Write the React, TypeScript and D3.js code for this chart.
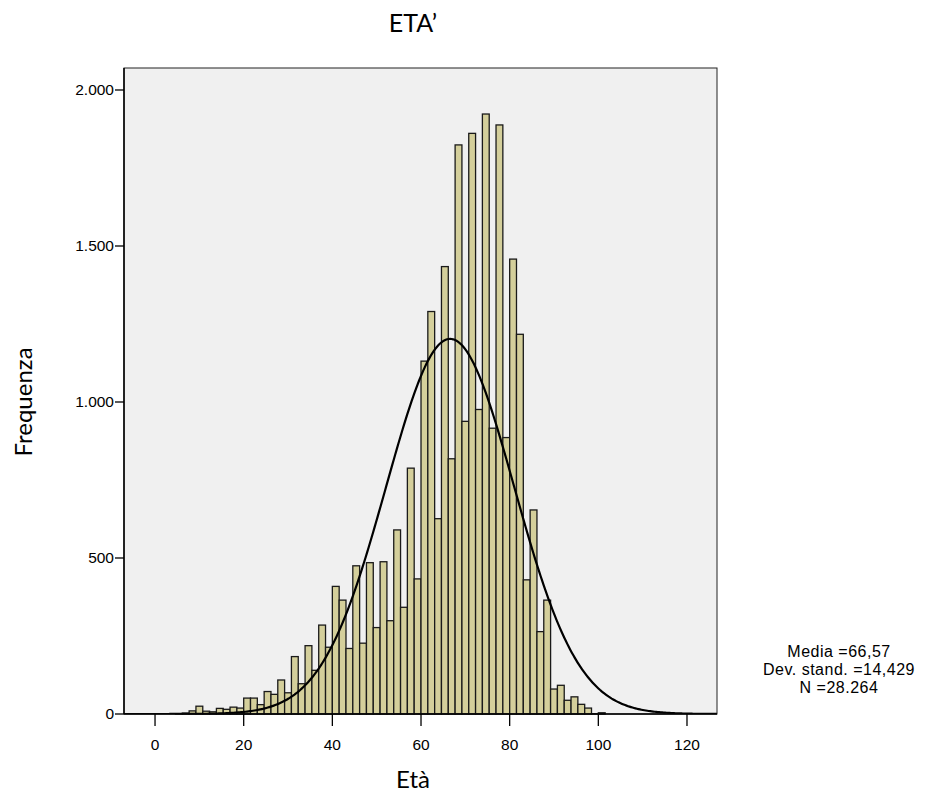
import React from "react";
import * as d3 from "d3";

// Histogram bins: bin k spans [k*BIN_WIDTH, (k+1)*BIN_WIDTH]
const BIN_WIDTH = 20 / 13;
const frequencies: number[] = [
  0, 0, 0, 1, 3, 10, 25, 9, 7, 18,
  15, 22, 19, 51, 51, 30, 72, 63, 109, 68,
  184, 97, 219, 140, 285, 214, 409, 365, 210, 475,
  227, 485, 277, 488, 299, 590, 342, 788, 433, 1131,
  1290, 626, 1434, 818, 1824, 938, 1861, 976, 1923, 916,
  1888, 886, 1458, 1217, 430, 654, 264, 365, 80, 92,
  44, 55, 31, 19, 1, 4,
];

const xTicks: number[] = [0, 20, 40, 60, 80, 100, 120];
const yTicks: number[] = [0, 500, 1000, 1500, 2000];
const yTickLabels: string[] = ["0", "500", "1.000", "1.500", "2.000"];

const MEAN = 66.57;
const SD = 14.429;
const N = 28264;
const statsLines: string[] = ["Media =66,57", "Dev. stand. =14,429", "N =28.264"];

const TITLE = "ETA\u2019";
const X_LABEL = "Et\u00e0";
const Y_LABEL = "Frequenza";

const W = 925;
const H = 798;
const PL = 124, PR = 717, PT = 68, PB = 714;

export default function App() {
  const x = d3.scaleLinear().domain([-7, 126.77]).range([PL, PR]);
  const y = d3.scaleLinear().domain([0, 2070.5]).range([PB, PT]);

  const bins = frequencies.map((f, k) => ({ x0: k * BIN_WIDTH, x1: (k + 1) * BIN_WIDTH, f }));

  const pdf = (v: number) =>
    (N * BIN_WIDTH) / (SD * Math.sqrt(2 * Math.PI)) * Math.exp(-0.5 * ((v - MEAN) / SD) ** 2);
  const [d0, d1] = x.domain();
  const curvePts = d3.range(0, 401).map((i) => d0 + ((d1 - d0) * i) / 400);
  const line = d3
    .line<number>()
    .x((v) => x(v))
    .y((v) => y(pdf(v)))
    .curve(d3.curveLinear);

  const serif = "Lato, 'Open Sans', sans-serif";
  const sans = "'Liberation Sans', Arial, sans-serif";

  return (
    <svg width={W} height={H} style={{ display: "block", position: "absolute", left: 0, top: 0 }}>
      <rect x={0} y={0} width={W} height={H} fill="#ffffff" />
      <text x={413} y={32} textAnchor="middle" fontFamily={serif} fontSize={25} fill="#000">
        {TITLE}
      </text>
      <rect x={PL} y={PT} width={PR - PL} height={PB - PT} fill="#f0f0f0" stroke="none" />
      <defs>
        <clipPath id="plotclip">
          <rect x={PL} y={PT} width={PR - PL} height={PB - PT} />
        </clipPath>
      </defs>
      <g>
        {bins
          .filter((b) => b.f > 0)
          .map((b, i) => (
            <rect
              key={i}
              x={x(b.x0)}
              y={y(b.f)}
              width={x(b.x1) - x(b.x0)}
              height={y(0) - y(b.f)}
              fill="#d4cf9b"
              stroke="#1a1a1a"
              strokeWidth={1.3}
            />
          ))}
      </g>
      <path
        d={line(curvePts) || ""}
        fill="none"
        stroke="#000"
        strokeWidth={2.2}
        clipPath="url(#plotclip)"
      />
      {/* frame */}
      <rect x={PL} y={PT} width={PR - PL} height={PB - PT} fill="none" stroke="#222" strokeWidth={1} />
      <line x1={PL} x2={PR} y1={PB} y2={PB} stroke="#000" strokeWidth={1.5} />
      <line x1={PL} x2={PL} y1={PT} y2={PB} stroke="#000" strokeWidth={1.5} />
      {/* y axis ticks */}
      {yTicks.map((t, i) => (
        <g key={"y" + i}>
          <line x1={PL - 9} x2={PL} y1={y(t)} y2={y(t)} stroke="#000" strokeWidth={1.3} />
          <text
            x={PL - 10}
            y={y(t)}
            dy="0.35em"
            textAnchor="end"
            fontFamily={sans}
            fontSize={15.5}
            fill="#000"
          >
            {yTickLabels[i]}
          </text>
        </g>
      ))}
      {/* x axis ticks */}
      {xTicks.map((t, i) => (
        <g key={"x" + i}>
          <line x1={x(t)} x2={x(t)} y1={PB} y2={PB + 12} stroke="#000" strokeWidth={1.3} />
          <text x={x(t)} y={750} textAnchor="middle" fontFamily={sans} fontSize={15.5} fill="#000">
            {String(t)}
          </text>
        </g>
      ))}
      <text x={413} y={788} textAnchor="middle" fontFamily={serif} fontSize={24} fill="#000">
        {X_LABEL}
      </text>
      <text
        transform={`translate(32,402) rotate(-90)`}
        textAnchor="middle"
        fontFamily={serif}
        fontSize={24}
        fill="#000"
      >
        {Y_LABEL}
      </text>
      {statsLines.map((s, i) => (
        <text
          key={"s" + i}
          x={839}
          y={657 + i * 18}
          textAnchor="middle"
          fontFamily={sans}
          fontSize={16}
          letterSpacing={0.5}
          fill="#000"
        >
          {s}
        </text>
      ))}
    </svg>
  );
}
